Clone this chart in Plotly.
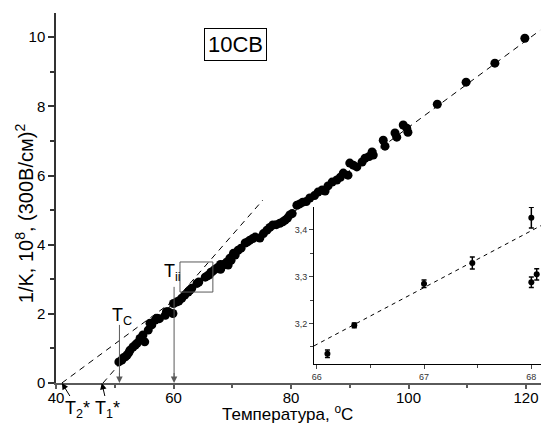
import plotly.graph_objects as go

# ---- main data: temperature (°C) vs 1/K ----
temp = [50.7, 51.2, 51.4, 51.8, 52.1, 52.4, 52.6, 53.1, 53.5, 53.8, 54.3, 54.8, 55.1, 55.7,
        56.0, 56.3, 56.9, 57.2, 57.6, 58.6, 58.8, 59.1, 59.9, 60.0, 60.5, 60.9, 61.4, 61.9,
        62.5, 62.8, 63.1, 64.0, 64.3, 65.4, 65.8, 66.1, 66.35, 66.6, 67.0, 67.45, 67.9, 68.0,
        68.0, 68.05, 68.4, 68.8, 69.1, 69.3, 69.6, 69.8, 70.2, 70.5, 71.0, 71.5, 72.2, 72.6,
        73.0, 73.5, 73.9, 74.7, 75.3, 75.9, 76.4, 76.9, 77.5, 78.1, 78.6, 79.0, 79.4, 79.8,
        80.2, 81.0, 81.5, 82.0, 82.6, 83.2, 84.0, 84.6, 85.3, 85.8, 86.3, 87.0, 87.8, 88.4,
        88.9, 89.7, 90.0, 90.6, 91.2, 92.1, 92.6, 93.3, 93.8, 94.0, 95.7, 96.0, 97.7, 98.0,
        99.1, 99.7, 99.9, 104.9, 109.8, 114.7, 119.8]
inv_k = [0.61, 0.66, 0.72, 0.76, 0.81, 0.88, 0.95, 1.04, 1.10, 1.15, 1.29, 1.39, 1.19, 1.53,
         1.73, 1.68, 1.82, 1.87, 1.86, 1.96, 2.06, 2.06, 2.01, 2.30, 2.34, 2.37, 2.45, 2.54,
         2.63, 2.69, 2.74, 2.88, 2.92, 3.06, 3.10, 3.13, 3.20, 3.22, 3.28, 3.33, 3.35, 3.43,
         3.29, 3.31, 3.41, 3.45, 3.50, 3.41, 3.61, 3.55, 3.75, 3.70, 3.84, 3.90, 4.05, 4.08,
         4.13, 4.18, 4.22, 4.19, 4.32, 4.42, 4.50, 4.57, 4.58, 4.62, 4.66, 4.71, 4.77, 4.86,
         4.90, 5.14, 5.18, 5.23, 5.25, 5.35, 5.42, 5.52, 5.58, 5.55, 5.70, 5.81, 5.87, 5.95,
         6.07, 6.01, 6.36, 6.30, 6.25, 6.39, 6.50, 6.55, 6.68, 6.59, 7.02, 6.85, 7.23, 7.11,
         7.46, 7.37, 7.25, 8.06, 8.70, 9.25, 9.97]

# fit lines (endpoints)
fit_hi_x = [41.0, 122.4]
fit_hi_y = [0.0, 10.2]
fit_lo_x = [48.0, 75.2]
fit_lo_y = [0.0, 5.29]

# ---- inset data ----
ins_t = [66.1, 66.35, 67.0, 67.45, 68.0, 68.0, 68.05]
ins_k = [3.135, 3.196, 3.285, 3.329, 3.426, 3.288, 3.305]
ins_err = [0.008, 0.005, 0.008, 0.013, 0.022, 0.011, 0.012]
ins_fit_x = [65.975, 68.09]
ins_fit_y = [3.152, 3.409]

FONT = "Arial, Liberation Sans, sans-serif"
GRAY = "#5a5a5a"

fig = go.Figure()
fig.add_trace(go.Scatter(x=fit_hi_x, y=fit_hi_y, mode="lines",
                         line=dict(color="black", width=1, dash="6px,5px"), hoverinfo="skip"))
fig.add_trace(go.Scatter(x=fit_lo_x, y=fit_lo_y, mode="lines",
                         line=dict(color="black", width=1, dash="6px,5px"), hoverinfo="skip"))
fig.add_trace(go.Scatter(x=temp, y=inv_k, mode="markers",
                         marker=dict(color="black", size=9, line=dict(width=0))))

fig.add_trace(go.Scatter(x=ins_fit_x, y=ins_fit_y, mode="lines", xaxis="x2", yaxis="y2",
                         line=dict(color="black", width=1, dash="4px,4px"), hoverinfo="skip"))
fig.add_trace(go.Scatter(x=ins_t, y=ins_k, mode="markers", xaxis="x2", yaxis="y2",
                         marker=dict(color="black", size=6),
                         error_y=dict(type="data", array=ins_err, color="black",
                                      thickness=1.5, width=2.5)))

# zoom rectangle
fig.add_shape(type="rect", x0=61.1, x1=66.7, y0=2.63, y1=3.50, xref="x", yref="y",
              line=dict(color=GRAY, width=1))

# vertical arrow shafts for T_C and T_ii
for xv, ytop in [(50.8, 1.68), (60.1, 2.78)]:
    fig.add_shape(type="line", x0=xv, x1=xv, y0=0.15, y1=ytop, xref="x", yref="y",
                  line=dict(color=GRAY, width=1))

ann = []
# arrowheads and labels T_C and T_ii
for xv, label, lx, ly in [(50.8, "T<sub>C</sub>", 51.3, 1.92),
                          (60.1, "T<sub>ii</sub>", 59.8, 3.2)]:
    ann.append(dict(x=xv, y=0, xref="x", yref="y", ax=0, ay=-12,
                    showarrow=True, arrowhead=2, arrowsize=1.3, arrowwidth=1,
                    arrowcolor=GRAY, text=" ", font=dict(size=1)))
    ann.append(dict(x=lx, y=ly, xref="x", yref="y", showarrow=False, text=label,
                    font=dict(family=FONT, size=18, color="black")))
# T1*, T2*
ann.append(dict(x=47.8, y=0, xref="x", yref="y", ax=6, ay=26, showarrow=True,
                arrowhead=2, arrowsize=1.3, arrowwidth=1, arrowcolor="black",
                text="T<sub>1</sub>*", font=dict(family=FONT, size=18, color="black")))
ann.append(dict(x=41.0, y=0, xref="x", yref="y", ax=16, ay=26, showarrow=True,
                arrowhead=2, arrowsize=1.3, arrowwidth=1, arrowcolor="black",
                text="T<sub>2</sub>*", font=dict(family=FONT, size=18, color="black")))
# 10CB label
ann.append(dict(x=70.6, y=9.8, xref="x", yref="y", showarrow=False, text="10CB",
                font=dict(family=FONT, size=22, color="black"),
                bordercolor="black", borderwidth=1, borderpad=3, bgcolor="white"))
# axis titles
ann.append(dict(x=0.478, y=-0.08, xref="paper", yref="paper", showarrow=False,
                text="Температура, <sup>o</sup>C", yanchor="middle",
                font=dict(family=FONT, size=17, color="black")))
ann.append(dict(x=-0.095, y=0.46, xref="paper", yref="paper", showarrow=False,
                text="1/K, 10<sup>8</sup>, (300В/см)<sup>2</sup>", textangle=-90,
                font=dict(family=FONT, size=20, color="black")))

fig.update_layout(
    width=541, height=427,
    margin=dict(l=56, r=0, t=13, b=44),
    paper_bgcolor="white", plot_bgcolor="white",
    showlegend=False,
    separators=",.",
    font=dict(family=FONT, size=14, color="black"),
    annotations=ann,
    xaxis=dict(range=[40, 122.55], showgrid=False, zeroline=False,
               showline=True, linecolor=GRAY, linewidth=2,
               tickmode="linear", tick0=40, dtick=20, ticks="outside", ticklen=4,
               tickcolor=GRAY, tickwidth=1.5, ticklabelstandoff=-4,
               minor=dict(dtick=10, ticks="outside", ticklen=3, tickcolor=GRAY),
               tickfont=dict(family=FONT, size=15, color="black")),
    yaxis=dict(range=[0, 10.7], showgrid=False, zeroline=False,
               showline=True, linecolor="#333", linewidth=1.5,
               tickmode="linear", tick0=0, dtick=2, ticks="outside", ticklen=6,
               tickcolor="#333", tickwidth=1.5,
               minor=dict(dtick=1, ticks="outside", ticklen=4, tickcolor="#333"),
               tickfont=dict(family=FONT, size=15, color="black")),
    xaxis2=dict(domain=[0.532, 1.0], anchor="y2", range=[65.975, 68.09],
                showgrid=False, zeroline=False, showline=True, linecolor="black",
                linewidth=1, tickmode="linear", tick0=66, dtick=1, ticks="outside",
                ticklen=4, minor=dict(dtick=0.5, ticks="outside", ticklen=3),
                tickfont=dict(family=FONT, size=9, color="#333")),
    yaxis2=dict(domain=[0.051, 0.476], anchor="x2", range=[3.113, 3.449],
                showgrid=False, zeroline=False, showline=True, linecolor="black",
                linewidth=1, tickmode="linear", tick0=3.2, dtick=0.1, ticks="outside",
                ticklen=4, tickformat=".1f", minor=dict(dtick=0.05, ticks="outside", ticklen=3),
                tickfont=dict(family=FONT, size=9, color="#333")),
)

fig.write_html("out.html", config={"displayModeBar": False},
               post_script="document.body.style.margin='0';")
